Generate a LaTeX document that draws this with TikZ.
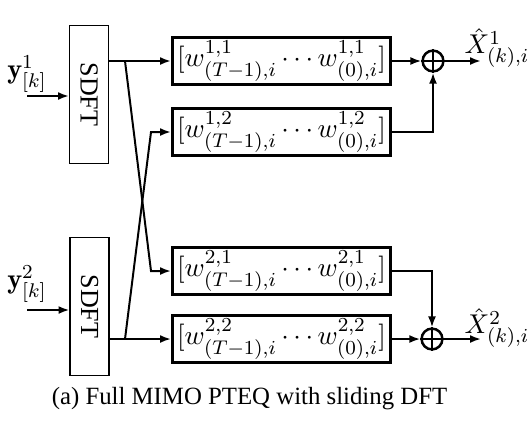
\documentclass[tikz,border=0pt]{standalone}
\usepackage{fontspec}
\newfontfamily\tms{Liberation Serif}
\usetikzlibrary{arrows.meta,calc}
\begin{document}
\begin{tikzpicture}[x=0.4032pt,y=-0.4032pt,
 conn/.style={line width=0.8pt},
 arr/.style={conn,-{Latex[length=4.4pt,width=3.2pt]}},
 sdft/.style={draw,line width=0.55pt,minimum width=15.6pt,minimum height=55.5pt,inner sep=0pt,font=\tms\fontsize{10.5}{12}\selectfont},
 filt/.style={draw,line width=1.2pt,minimum width=87.9pt,minimum height=18.6pt,inner sep=0pt,font=\fontsize{11.4}{13}\selectfont},
 sumnode/.style={draw,circle,line width=1pt,minimum size=8.4pt,inner sep=0pt},
 lab/.style={inner sep=0pt,font=\fontsize{11.4}{13}\selectfont}]
\useasboundingbox (0,0) rectangle (528,423);
% SDFT blocks
\node[sdft] (sd1) at (89,94.5) {\rotatebox{-90}{SDFT}};
\node[sdft] (sd2) at (89.5,306.5) {\rotatebox{-90}{SDFT}};
% filter blocks
\node[filt] (w11) at (281.5,61) {$[w^{1,1}_{(T-1),i}\cdots w^{1,1}_{(0),i}]$};
\node[filt] (w12) at (281.5,132) {$[w^{1,2}_{(T-1),i}\cdots w^{1,2}_{(0),i}]$};
\node[filt] (w21) at (281.5,271) {$[w^{2,1}_{(T-1),i}\cdots w^{2,1}_{(0),i}]$};
\node[filt] (w22) at (281.5,339) {$[w^{2,2}_{(T-1),i}\cdots w^{2,2}_{(0),i}]$};
% summers
\node[sumnode] (s1) at (433,61) {};
\node[sumnode] (s2) at (432,339) {};
\draw[line width=1pt] (s1.north) -- (s1.south) (s1.west) -- (s1.east);
\draw[line width=1pt] (s2.north) -- (s2.south) (s2.west) -- (s2.east);
% coordinates
\coordinate (i1) at (27,96);
\coordinate (i2) at (27,310);
\coordinate (o1) at (481,61);
\coordinate (o2) at (481,339);
\coordinate (b1) at (125,61);
\coordinate (b2) at (125,339);
\coordinate (k1) at (151,271);
\coordinate (k2) at (151,132);
% labels
\node[lab] (y1) at (27,74) {$\mathbf{y}^1_{[k]}$};
\node[lab] (y2) at (27,284) {$\mathbf{y}^2_{[k]}$};
\node[lab] (x1) at (497,48) {$\hat{X}^1_{(k),i}$};
\node[lab] (x2) at (497,328) {$\hat{X}^2_{(k),i}$};
\node[font=\tms\fontsize{10}{12}\selectfont] (cap) at (249.5,399) {(a) Full MIMO PTEQ with sliding DFT};
% connectors
\draw[arr] (i1) -- (i1 -| sd1.west);
\draw[arr] (i2) -- (i2 -| sd2.west);
\draw[arr] (sd1.east |- w11.west) -- (w11.west);
\draw[arr] (b1) -- (k1) -- (w21.west);
\draw[arr] (sd2.east |- w22.west) -- (w22.west);
\draw[arr] (b2) -- (k2) -- (w12.west);
\draw[arr] (w11.east) -- (s1.west);
\draw[arr] (w12.east) -| (s1.south);
\draw[arr] (s1.east) -- (o1);
\draw[arr] (w21.east) -| (s2.north);
\draw[arr] (w22.east) -- (s2.west);
\draw[arr] (s2.east) -- (o2);
\end{tikzpicture}
\end{document}
